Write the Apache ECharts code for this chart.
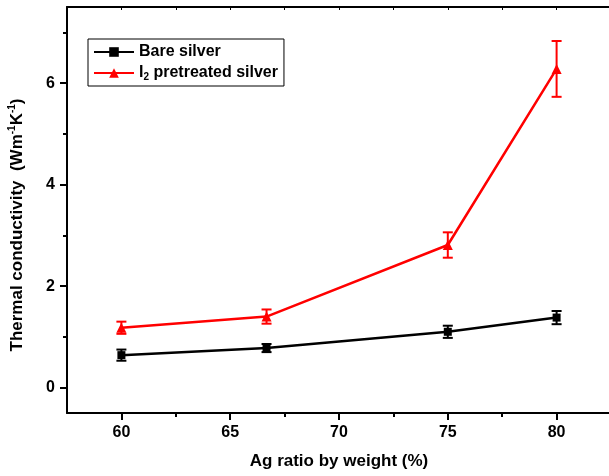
<!DOCTYPE html>
<html>
<head>
<meta charset="utf-8">
<script src="https://cdn.jsdelivr.net/npm/echarts@6/dist/echarts.min.js"></script>
<style>
  html, body { margin: 0; padding: 0; background: #fff; }
</style>
</head>
<body>
<div id="charts" style="width:609px;height:476px;"></div>
<script>
// data
var agRatio = [60, 66.67, 75, 80]
var bareMean = [0.64, 0.78, 1.10, 1.38]
var bareErr = [0.11, 0.08, 0.12, 0.13]
var i2Mean = [1.18, 1.40, 2.81, 6.28]
var i2Err = [0.12, 0.14, 0.25, 0.55]

var xMajor = [60, 65, 70, 75, 80]
var xMinor = [62.5, 67.5, 72.5, 77.5]
var yMajor = [0, 2, 4, 6]
var yMinor = [1, 3, 5, 7]

var font = 'Liberation Sans, Arial, sans-serif'

function pairs (xs, ys) {
  return xs.map(function (x, i) { return [x, ys[i]] })
}
function errRows (xs, ys, es) {
  return xs.map(function (x, i) { return [x, ys[i] - es[i], ys[i] + es[i]] })
}

// error bars drawn with the axes' own coordinates
function errorBar (color) {
  return function (params, api) {
    var lo = api.coord([api.value(0), api.value(1)])
    var hi = api.coord([api.value(0), api.value(2)])
    var w = 5
    var st = { stroke: color, lineWidth: 2 }
    return {
      type: 'group',
      children: [
        { type: 'line', shape: { x1: lo[0], y1: lo[1], x2: hi[0], y2: hi[1] }, style: st },
        { type: 'line', shape: { x1: lo[0] - w, y1: lo[1], x2: lo[0] + w, y2: lo[1] }, style: st },
        { type: 'line', shape: { x1: hi[0] - w, y1: hi[1], x2: hi[0] + w, y2: hi[1] }, style: st }
      ]
    }
  }
}

var myChart = echarts.init(document.getElementById('charts'))

var axisLbl = { color: '#000', fontFamily: font, fontWeight: 'bold', fontSize: 16 }
var frame = { onZero: false, lineStyle: { color: '#000', width: 2 } }

var option = {
  animation: false,
  backgroundColor: '#fff',
  grid: { left: 67, top: 7, right: -2, bottom: 63, outerBoundsMode: 'none' },
  legend: {
    left: 88,
    top: 39,
    orient: 'vertical',
    itemWidth: 40,
    itemHeight: 12,
    itemGap: 5,
    padding: [5, 6, 4, 5],
    borderColor: '#000',
    borderWidth: 1,
    borderRadius: 0,
    data: ['Bare silver', 'I2 pretreated silver'],
    formatter: function (name) {
      if (name === 'I2 pretreated silver') return '{a|I}{sub|2}{a| pretreated silver}'
      return '{a|' + name + '}'
    },
    textStyle: {
      rich: {
        a: { fontFamily: font, fontWeight: 'bold', fontSize: 16, color: '#000', lineHeight: 18 },
        sub: { fontFamily: font, fontWeight: 'bold', fontSize: 10, color: '#000', verticalAlign: 'bottom', padding: [8, 0, 0, 0] }
      }
    }
  },
  xAxis: [
    {
      type: 'value', min: 57.5, max: 82.5, position: 'bottom',
      name: 'Ag ratio by weight (%)', nameLocation: 'middle', nameGap: 40,
      nameTextStyle: { color: '#000', fontFamily: font, fontWeight: 'bold', fontSize: 17 },
      splitLine: { show: false },
      axisLine: frame,
      axisTick: { inside: false, length: 7, lineStyle: { color: '#000', width: 2 }, customValues: xMajor },
      axisLabel: Object.assign({ margin: 12, customValues: xMajor }, axisLbl)
    },
    {
      type: 'value', min: 57.5, max: 82.5, position: 'top',
      splitLine: { show: false },
      axisLine: frame,
      axisTick: { inside: true, length: 3, lineStyle: { color: '#000', width: 1 }, customValues: xMajor.concat(xMinor) },
      axisLabel: { show: false }
    },
    {
      type: 'value', min: 57.5, max: 82.5, position: 'bottom',
      splitLine: { show: false },
      axisLine: { show: false, onZero: false },
      axisTick: { inside: false, length: 4, lineStyle: { color: '#000', width: 2 }, customValues: xMinor },
      axisLabel: { show: false }
    }
  ],
  yAxis: [
    {
      type: 'value', min: -0.5, max: 7.5, position: 'left',
      name: '{a|Thermal conductivity  (Wm}{s|-1}{a|K}{s|-1}{a|)}',
      nameLocation: 'middle', nameGap: 40,
      nameTextStyle: {
        padding: [0, 30, 0, 0],
        rich: {
          a: { fontFamily: font, fontWeight: 'bold', fontSize: 17, color: '#000', lineHeight: 20 },
          s: { fontFamily: font, fontWeight: 'bold', fontSize: 10, color: '#000', verticalAlign: 'top', padding: [0, 0, 8, 0] }
        }
      },
      splitLine: { show: false },
      axisLine: frame,
      axisTick: { inside: false, length: 7, lineStyle: { color: '#000', width: 2 }, customValues: yMajor },
      axisLabel: Object.assign({ margin: 12, customValues: yMajor }, axisLbl)
    },
    {
      type: 'value', min: -0.5, max: 7.5, position: 'left',
      splitLine: { show: false },
      axisLine: { show: false, onZero: false },
      axisTick: { inside: false, length: 4, lineStyle: { color: '#000', width: 2 }, customValues: yMinor },
      axisLabel: { show: false }
    }
  ],
  series: [
    {
      name: 'Bare silver err', type: 'custom', xAxisIndex: 0, yAxisIndex: 0,
      renderItem: errorBar('#000'), data: errRows(agRatio, bareMean, bareErr), z: 2
    },
    {
      name: 'I2 pretreated silver err', type: 'custom', xAxisIndex: 0, yAxisIndex: 0,
      renderItem: errorBar('#ff0000'), data: errRows(agRatio, i2Mean, i2Err), z: 2
    },
    {
      name: 'Bare silver', type: 'line', xAxisIndex: 0, yAxisIndex: 0,
      data: pairs(agRatio, bareMean),
      symbol: 'rect', symbolSize: 8, z: 3,
      lineStyle: { color: '#000', width: 2.5 },
      itemStyle: { color: '#000' }
    },
    {
      name: 'I2 pretreated silver', type: 'line', xAxisIndex: 0, yAxisIndex: 0,
      data: pairs(agRatio, i2Mean),
      symbol: 'triangle', symbolSize: 10, z: 3,
      lineStyle: { color: '#ff0000', width: 2.5 },
      itemStyle: { color: '#ff0000' }
    }
  ]
}

myChart.setOption(option)
</script>
</body>
</html>
